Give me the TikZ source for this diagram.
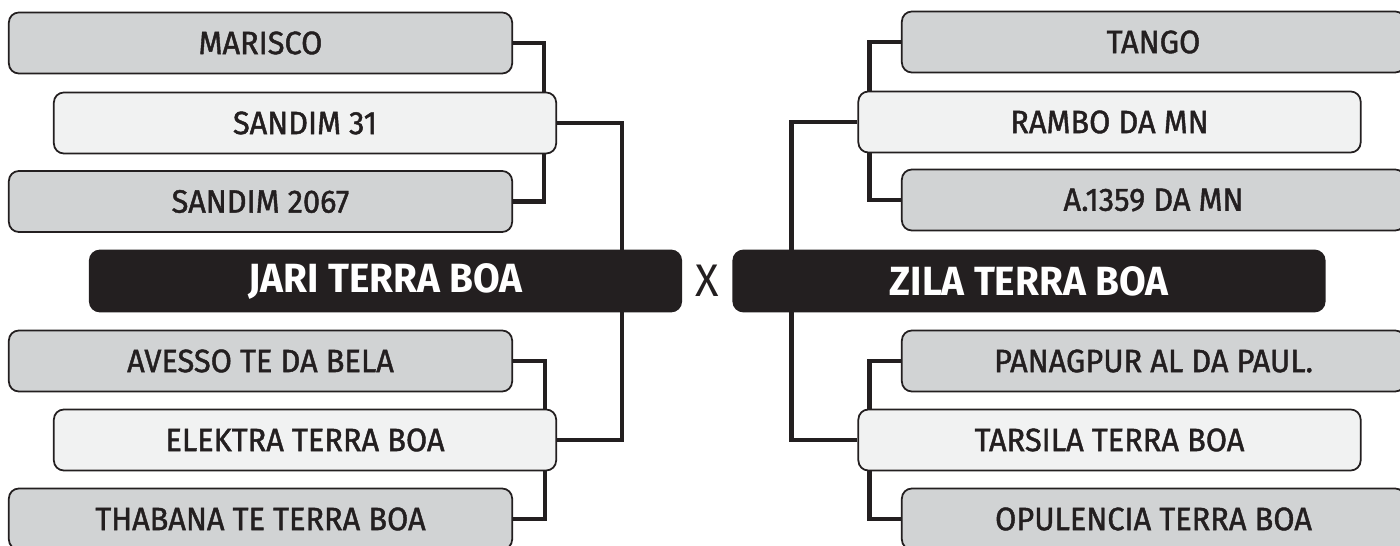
\documentclass[tikz,border=0pt]{standalone}
\usepackage{fontspec}
\setmainfont{Fira Sans}[FakeStretch=0.95]
\newfontfamily\entryfont{Fira Sans}[FakeStretch=0.95,FakeBold=1.3]
\usetikzlibrary{positioning,calc}
\definecolor{ink}{HTML}{231F20}
\definecolor{seedbg}{HTML}{D1D3D4}
\definecolor{pickbg}{HTML}{F1F2F2}
\tikzset{
  entry/.style={draw=ink,line width=0.5pt,rounded corners=0.1cm,minimum height=0.61cm,
    inner sep=0pt,font=\entryfont\fontsize{9.2}{10}\selectfont,text=ink},
  seed/.style={entry,fill=seedbg,minimum width=5.03cm},
  pick/.style={entry,fill=pickbg,minimum width=5.02cm},
  champ/.style={entry,fill=ink,minimum width=5.91cm,text=white,
    font=\fontsize{11.6}{12}\selectfont\bfseries},
  link/.style={draw=ink,line width=1.4pt},
}
\begin{document}
\begin{tikzpicture}[x=0.01cm,y=-0.01cm]
  \useasboundingbox (0,0) rectangle (1400,546);
  % left bracket
  \node[seed](marisco) at (260.5,43){MARISCO};
  \node[pick](sandimA) at (305,123){SANDIM 31};
  \node[seed](sandimB) at (260.5,201.5){SANDIM 2067};
  \node[champ](jari) at (385.5,281){JARI TERRA BOA};
  \node[seed](avesso) at (260.5,361){AVESSO TE DA BELA};
  \node[pick](elektra) at (305,440){ELEKTRA TERRA BOA};
  \node[seed](thabana) at (260.5,519){THABANA TE TERRA BOA};
  % versus
  \node[font=\fontsize{13}{14}\selectfont,text=ink](vs) at (707,281){X};
  % right bracket
  \node[seed](tango) at (1153.5,42){TANGO};
  \node[pick](rambo) at (1109.5,122){RAMBO DA MN};
  \node[seed](amn) at (1153.5,200){A.1359 DA MN};
  \node[champ](zila) at (1029,281){ZILA TERRA BOA};
  \node[seed](panag) at (1153.5,361){PANAGPUR AL DA PAUL.};
  \node[pick](tarsila) at (1109.5,440){TARSILA TERRA BOA};
  \node[seed](opul) at (1153.5,519){OPULENCIA TERRA BOA};
  % connectors
  \draw[link] (marisco.east) -| ([xshift=-0.13cm]sandimA.north east);
  \draw[link] (sandimB.east) -| ([xshift=-0.13cm]sandimA.south east);
  \draw[link] (sandimA.east) -| ([xshift=-0.6cm]jari.north east);
  \draw[link] (avesso.east) -| ([xshift=-0.12cm]elektra.north east);
  \draw[link] (thabana.east) -| ([xshift=-0.12cm]elektra.south east);
  \draw[link] (elektra.east) -| ([xshift=-0.6cm]jari.south east);
  \draw[link] (tango.west) -| ([xshift=0.12cm]rambo.north west);
  \draw[link] (amn.west) -| ([xshift=0.12cm]rambo.south west);
  \draw[link] (rambo.west) -| ([xshift=0.59cm]zila.north west);
  \draw[link] (panag.west) -| ([xshift=0.12cm]tarsila.north west);
  \draw[link] (opul.west) -| ([xshift=0.12cm]tarsila.south west);
  \draw[link] (tarsila.west) -| ([xshift=0.59cm]zila.south west);
\end{tikzpicture}
\end{document}
